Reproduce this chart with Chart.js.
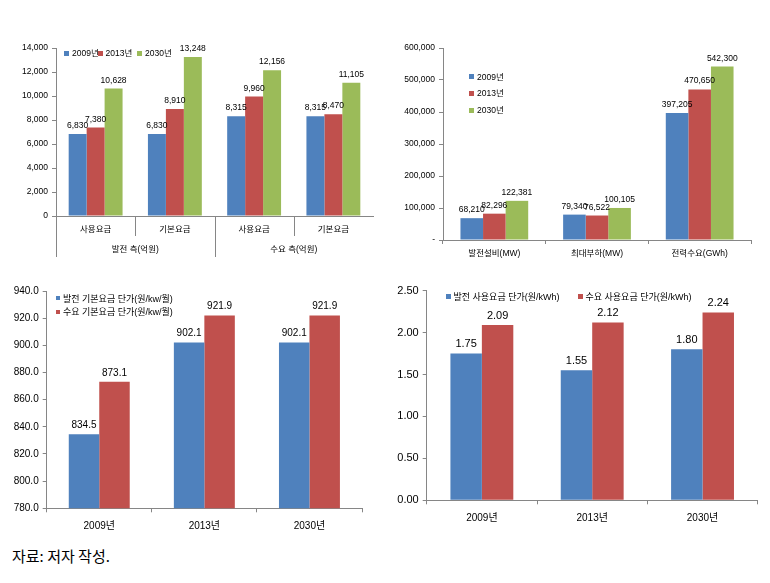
<!DOCTYPE html>
<html>
<head>
<meta charset="utf-8">
<script src="https://cdn.jsdelivr.net/npm/chart.js@4"></script>
<style>
body{margin:0;background:#fff;width:770px;height:583px;position:relative;overflow:hidden;}
canvas{position:absolute;}
.lg{position:absolute;color:#000;white-space:nowrap;}
.sw{display:inline-block;margin-right:3px;vertical-align:middle;position:relative;top:-1px;}
.note{position:absolute;left:12px;top:547px;font:15px 'Noto Sans CJK KR',sans-serif;line-height:18px;color:#000;white-space:nowrap;}
</style>
</head>
<body>
<canvas id="c1" width="380" height="240" style="left:0;top:30px"></canvas>
<canvas id="c2" width="390" height="240" style="left:380px;top:30px"></canvas>
<canvas id="c3" width="380" height="255" style="left:0;top:280px"></canvas>
<canvas id="c4" width="390" height="250" style="left:380px;top:280px"></canvas>
<div class="note">자료: 저자 작성.</div>
<script>
// ---------------- data ----------------
const seriesYears = ['2009년', '2013년', '2030년'];

const c1Categories = ['사용요금', '기본요금', '사용요금', '기본요금'];
const c1Groups = ['발전 측(억원)', '수요 측(억원)'];
const c1v2009 = [6830, 6830, 8315, 8315];
const c1v2013 = [7380, 8910, 9960, 8470];
const c1v2030 = [10628, 13248, 12156, 11105];

const c2Categories = ['발전설비(MW)', '최대부하(MW)', '전력수요(GWh)'];
const c2v2009 = [68210, 79340, 397205];
const c2v2013 = [82296, 76522, 470650];
const c2v2030 = [122381, 100105, 542300];

const c3Categories = ['2009년', '2013년', '2030년'];
const c3Series = ['발전 기본요금 단가(원/kw/월)', '수요 기본요금 단가(원/kw/월)'];
const c3Gen = [834.5, 902.1, 902.1];
const c3Dem = [873.1, 921.9, 921.9];

const c4Categories = ['2009년', '2013년', '2030년'];
const c4Series = ['발전 사용요금 단가(원/kWh)', '수요 사용요금 단가(원/kWh)'];
const c4Gen = [1.75, 1.55, 1.80];
const c4Dem = [2.09, 2.12, 2.24];

// ---------------- style ----------------
const FONT = "'Liberation Sans', 'Noto Sans CJK KR', sans-serif";
const BLUE = '#4F81BD', RED = '#C0504D', GREEN = '#9BBB59';
const AXIS = '#868686';
Chart.defaults.font.family = FONT;
Chart.defaults.color = '#000';

function fmtComma(v) { return v.toLocaleString('en-US'); }

function labelPlugin(format, fontPx, offset) {
  return {
    id: 'valueLabels',
    afterDatasetsDraw(chart) {
      const ctx = chart.ctx;
      ctx.save();
      ctx.font = fontPx + 'px ' + FONT;
      ctx.fillStyle = '#000';
      ctx.textAlign = 'center';
      ctx.textBaseline = 'bottom';
      chart.data.datasets.forEach((ds, di) => {
        chart.getDatasetMeta(di).data.forEach((el, i) => {
          ctx.fillText(format(ds.data[i]), el.x, el.y - offset);
        });
      });
      ctx.restore();
    }
  };
}

function yAxis(min, max, step, fontPx, width, cb) {
  return {
    min: min, max: max,
    border: { display: true, color: AXIS },
    grid: { drawOnChartArea: false, tickLength: 4, color: AXIS },
    ticks: { stepSize: step, font: { size: fontPx }, padding: 4, color: '#000', callback: cb },
    afterFit(s) { s.width = width; }
  };
}

function xAxis(fontPx, height, padding, gridOn) {
  return {
    border: { display: true, color: AXIS },
    grid: gridOn ? { drawOnChartArea: false, offset: true, tickLength: 4, color: AXIS } : { display: false, drawTicks: false },
    ticks: { font: { size: fontPx }, padding: padding, color: '#000', maxRotation: 0, autoSkip: false },
    afterFit(s) { s.height = height; }
  };
}

function baseOptions(pad, scales) {
  return {
    responsive: false, animation: false, devicePixelRatio: 1,
    layout: { padding: pad },
    plugins: { legend: { display: false }, tooltip: { enabled: false } },
    scales: scales
  };
}

function ds(label, data, color, cp) {
  return { label: label, data: data, backgroundColor: color, borderWidth: 0, barPercentage: 1, categoryPercentage: cp };
}

function legendItem(x, yc, color, text, fontPx, box) {
  const d = document.createElement('div');
  d.className = 'lg';
  d.style.left = x + 'px';
  d.style.top = (yc - fontPx * 0.6) + 'px';
  d.style.font = fontPx + 'px ' + FONT;
  d.style.lineHeight = (fontPx * 1.2) + 'px';
  const s = document.createElement('span');
  s.className = 'sw';
  s.style.background = color; s.style.width = box + 'px'; s.style.height = box + 'px';
  d.appendChild(s);
  d.appendChild(document.createTextNode(text));
  document.body.appendChild(d);
}

// ---------------- chart 1 ----------------
const c1AxisPlugin = {
  id: 'c1Axis',
  afterDraw(chart) {
    const x = chart.scales.x, ctx = chart.ctx, top = chart.chartArea.bottom;
    const w = x.getPixelForValue(1) - x.getPixelForValue(0);
    ctx.save();
    ctx.strokeStyle = AXIS; ctx.lineWidth = 1;
    for (let i = 0; i < c1Categories.length; i++) {
      const bx = Math.round(x.getPixelForValue(i) - w / 2) + 0.5;
      const len = (i % 2 === 0) ? 41 : 20;
      ctx.beginPath(); ctx.moveTo(bx, top); ctx.lineTo(bx, top + len); ctx.stroke();
    }
    ctx.font = '8.5px ' + FONT;
    ctx.fillStyle = '#000'; ctx.textAlign = 'center'; ctx.textBaseline = 'middle';
    c1Groups.forEach((g, gi) => {
      const cx = (x.getPixelForValue(gi * 2) + x.getPixelForValue(gi * 2 + 1)) / 2;
      ctx.fillText(g, cx, top + 34);
    });
    ctx.restore();
  }
};

new Chart(document.getElementById('c1'), {
  type: 'bar',
  data: {
    labels: c1Categories,
    datasets: [
      ds(seriesYears[0], c1v2009, BLUE, 0.68),
      ds(seriesYears[1], c1v2013, RED, 0.68),
      ds(seriesYears[2], c1v2030, GREEN, 0.68)
    ]
  },
  options: baseOptions({ left: 0, right: 7, top: 18, bottom: 0 }, {
    x: xAxis(8.5, 54, 9, false),
    y: yAxis(0, 14000, 2000, 8.5, 56, v => fmtComma(v))
  }),
  plugins: [labelPlugin(fmtComma, 8.5, 4), c1AxisPlugin]
});
legendItem(64, 53.5, BLUE, seriesYears[0], 8.5, 5);
legendItem(97.5, 53.5, RED, seriesYears[1], 8.5, 5);
legendItem(137, 53.5, GREEN, seriesYears[2], 8.5, 5);

// ---------------- chart 2 ----------------
new Chart(document.getElementById('c2'), {
  type: 'bar',
  data: {
    labels: c2Categories,
    datasets: [
      ds(seriesYears[0], c2v2009, BLUE, 0.66),
      ds(seriesYears[1], c2v2013, RED, 0.66),
      ds(seriesYears[2], c2v2030, GREEN, 0.66)
    ]
  },
  options: baseOptions({ left: 0, right: 19, top: 18, bottom: 0 }, {
    x: xAxis(8.5, 30, 5, true),
    y: yAxis(0, 600000, 100000, 8.5, 63, v => v === 0 ? '-' : fmtComma(v))
  }),
  plugins: [labelPlugin(fmtComma, 8.5, 4)]
});
legendItem(469, 77, BLUE, seriesYears[0], 8.5, 5);
legendItem(469, 93.5, RED, seriesYears[1], 8.5, 5);
legendItem(469, 110.5, GREEN, seriesYears[2], 8.5, 5);

// ---------------- chart 3 ----------------
new Chart(document.getElementById('c3'), {
  type: 'bar',
  data: {
    labels: c3Categories,
    datasets: [
      ds(c3Series[0], c3Gen, BLUE, 0.58),
      ds(c3Series[1], c3Dem, RED, 0.58)
    ]
  },
  options: baseOptions({ left: 0, right: 18, top: 11, bottom: 0 }, {
    x: xAxis(10, 26.7, 8, true),
    y: yAxis(780, 940, 20, 10, 46.7, v => v.toFixed(1))
  }),
  plugins: [labelPlugin(v => v.toFixed(1), 10, 4)]
});
legendItem(56, 299, BLUE, c3Series[0], 9, 4);
legendItem(56, 312.5, RED, c3Series[1], 9, 4);

// ---------------- chart 4 ----------------
new Chart(document.getElementById('c4'), {
  type: 'bar',
  data: {
    labels: c4Categories,
    datasets: [
      ds(c4Series[0], c4Gen, BLUE, 0.57),
      ds(c4Series[1], c4Dem, RED, 0.57)
    ]
  },
  options: baseOptions({ left: 0, right: 12.3, top: 6.7, bottom: 0 }, {
    x: xAxis(10, 29.7, 7.5, true),
    y: yAxis(0, 2.5, 0.5, 11, 46.7, v => v.toFixed(2))
  }),
  plugins: [labelPlugin(v => v.toFixed(2), 11, 4)]
});
legendItem(445.5, 297, BLUE, c4Series[0], 9, 5);
legendItem(577.5, 297, RED, c4Series[1], 9, 5);
</script>
</body>
</html>
